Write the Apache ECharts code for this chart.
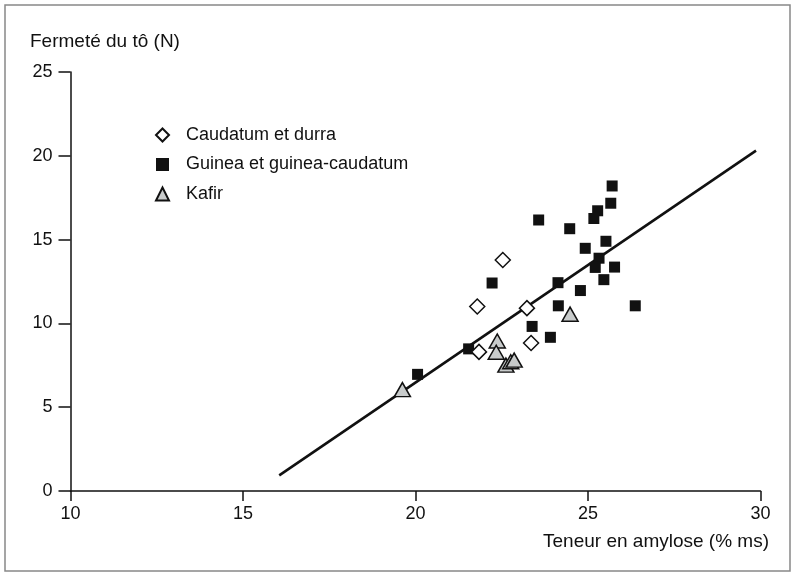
<!DOCTYPE html>
<html>
<head>
<meta charset="utf-8">
<script src="https://cdn.jsdelivr.net/npm/echarts@6/dist/echarts.min.js"></script>
<style>
  html, body { margin: 0; padding: 0; background: #fff; }
  #chart { width: 795px; height: 576px; }
</style>
</head>
<body>
<div id="chart"></div>
<script>
// Caudatum et durra (diamants blancs)
const caudatumX = [22.53, 21.79, 23.23, 23.35, 21.84]
const caudatumY = [13.78, 11.01, 10.91, 8.83, 8.30]

// Guinea et guinea-caudatum (carrés noirs)
const guineaX = [25.70, 25.66, 25.28, 25.17, 23.57, 24.47, 25.52, 24.92, 25.32, 25.21, 25.77,
  25.46, 22.22, 24.13, 24.78, 24.14, 26.37, 23.38, 23.91, 21.54, 20.06]
const guineaY = [18.20, 17.17, 16.72, 16.26, 16.17, 15.65, 14.90, 14.48, 13.89, 13.34, 13.36,
  12.61, 12.41, 12.43, 11.96, 11.05, 11.05, 9.82, 9.17, 8.48, 6.96]

// Kafir (triangles gris)
const kafirX = [22.37, 22.34, 22.62, 22.76, 22.86, 19.62, 24.48]
const kafirY = [8.95, 8.28, 7.51, 7.71, 7.81, 6.05, 10.55]

// droite de régression
const fitX = [16.05, 29.87]
const fitY = [0.93, 20.31]

const xTicks = { min: 10, max: 30, interval: 5 }
const yTicks = { min: 0, max: 25, interval: 5 }

const zip = (xs, ys) => xs.map((x, i) => [x, ys[i]])

const font = 'Liberation Sans, Arial, Helvetica, sans-serif'
const ink = '#111'

const chart = echarts.init(document.getElementById('chart'), null, { renderer: 'canvas' })

chart.setOption({
  animation: false,
  backgroundColor: '#fff',
  textStyle: { fontFamily: font },
  grid: { left: 70.5, right: 34.5, top: 72, bottom: 85 },
  legend: {
    orient: 'vertical',
    left: 150,
    top: 121,
    itemWidth: 13,
    itemHeight: 13,
    itemGap: 11.5,
    textStyle: { fontSize: 18, color: ink, lineHeight: 18, padding: [0, 0, 0, 12], fontFamily: font },
    data: ['Caudatum et durra', 'Guinea et guinea-caudatum', 'Kafir'],
  },
  xAxis: {
    type: 'value',
    min: xTicks.min,
    max: xTicks.max,
    interval: xTicks.interval,
    splitLine: { show: false },
    axisLine: { onZero: false, lineStyle: { color: ink, width: 1.5 } },
    axisTick: { length: 10, lineStyle: { color: ink, width: 1.5 } },
    axisLabel: { fontSize: 18, color: ink, margin: 14, fontFamily: font },
  },
  yAxis: {
    type: 'value',
    min: yTicks.min,
    max: yTicks.max,
    interval: yTicks.interval,
    splitLine: { show: false },
    axisLine: { show: true, onZero: false, lineStyle: { color: ink, width: 1.5 } },
    axisTick: { show: true, length: 12, lineStyle: { color: ink, width: 1.5 } },
    axisLabel: { fontSize: 18, color: ink, margin: 18, fontFamily: font },
  },
  graphic: [
    {
      type: 'rect',
      shape: { x: 5, y: 5, width: 785, height: 566 },
      style: { fill: 'none', stroke: '#888', lineWidth: 1.5 },
      silent: true,
    },
    {
      type: 'text',
      left: 30,
      top: 32,
      style: { text: 'Fermeté du tô (N)', fontSize: 19, fill: ink, fontFamily: font },
    },
    {
      type: 'text',
      right: 26,
      top: 532,
      style: { text: 'Teneur en amylose (% ms)', fontSize: 19, fill: ink, fontFamily: font },
    },
  ],
  series: [
    {
      name: 'fit',
      type: 'line',
      data: zip(fitX, fitY),
      symbol: 'none',
      lineStyle: { color: ink, width: 2.6 },
      z: 1,
    },
    {
      name: 'Caudatum et durra',
      type: 'scatter',
      symbol: 'diamond',
      symbolSize: 15,
      data: zip(caudatumX, caudatumY),
      itemStyle: { color: '#fff', borderColor: ink, borderWidth: 1.5, opacity: 1 },
      z: 3,
    },
    {
      name: 'Guinea et guinea-caudatum',
      type: 'scatter',
      symbol: 'rect',
      symbolSize: 11,
      data: zip(guineaX, guineaY),
      itemStyle: { color: ink, opacity: 1 },
      z: 2,
    },
    {
      name: 'Kafir',
      type: 'scatter',
      symbol: 'triangle',
      symbolSize: [16, 14],
      data: zip(kafirX, kafirY),
      itemStyle: { color: '#c8cbcb', borderColor: ink, borderWidth: 1.5, opacity: 1 },
      z: 4,
    },
  ],
})
</script>
</body>
</html>
